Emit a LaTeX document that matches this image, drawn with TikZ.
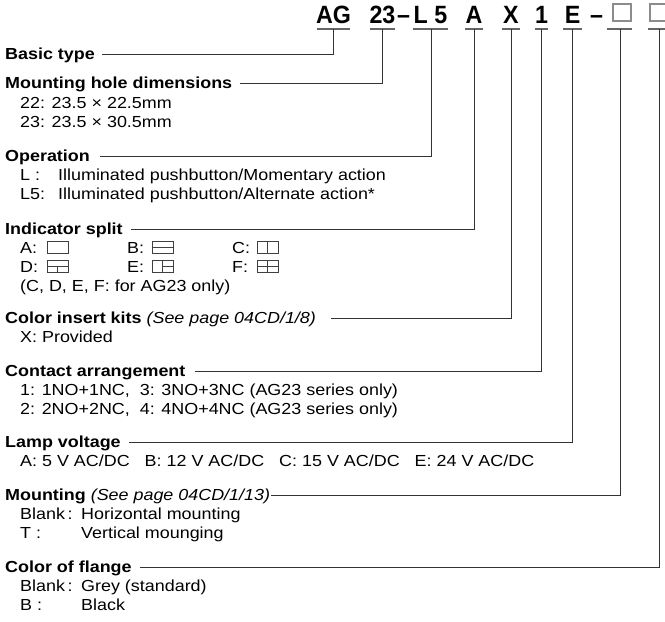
\documentclass[tikz,border=0pt]{standalone}
\usepackage{fontspec}
\setmainfont{Liberation Sans}[FakeStretch=1.12]
\newfontfamily\codefont{Liberation Sans}[FakeStretch=0.93]
\begin{document}
\begin{tikzpicture}[x=1pt,y=-1pt,
  hdr/.style={font=\bfseries\fontsize{16}{19}\selectfont, inner sep=0pt, text height=12pt, text depth=3pt, anchor=base west},
  itm/.style={font=\fontsize{16}{19}\selectfont, inner sep=0pt, anchor=base west},
  code/.style={font=\codefont\bfseries\fontsize{25}{28}\selectfont, inner sep=0pt, text depth=0pt, anchor=base},
  ul/.style={line width=1.4pt, draw=black!60},
  lead/.style={line width=0.9pt, draw=black!80},
  cbox/.style={draw=black!45, line width=1.1pt, minimum width=18pt, minimum height=17pt, inner sep=0pt},
  sbox/.style={line width=0.7pt, draw=black!75}]
\useasboundingbox (0,0) rectangle (665,622);

% ---- order code ----
\node[code] (cAG) at (333.5,23) {AG};
\node[code] (c23) at (382.5,23) {23};
\node[code] (cd1) at (403.5,23) {–};
\node[code] (cL5) at (430.5,23) {L 5};
\node[code] (cA) at (474,23) {A};
\node[code] (cX) at (511,23) {X};
\node[code] (c1) at (541.5,23) {1};
\node[code] (cE) at (572.5,23) {E};
\node[code] (cd2) at (596.5,23) {–};
\node[cbox] (cB1) at (622,12.5) {};
\node[cbox] (cB2) at (659,12.5) {};

% underlines
\coordinate (uAG) at (333.5,29);
\coordinate (u23) at (382.5,29);
\coordinate (uL5) at (431,29);
\coordinate (uA) at (474,29);
\coordinate (uX) at (511,29);
\coordinate (u1) at (541.5,29);
\coordinate (uE) at (572.5,29);
\coordinate (uB1) at (620,29);
\coordinate (uB2) at (659,29);
\draw[ul] (317,29) -- (350,29);
\draw[ul] (370,29) -- (395,29);
\draw[ul] (413,29) -- (448,29);
\draw[ul] (465,29) -- (483,29);
\draw[ul] (502,29) -- (520,29);
\draw[ul] (535,29) -- (548,29);
\draw[ul] (563,29) -- (582,29);
\draw[ul] (607,29) -- (632,29);
\draw[ul] (648,29) -- (673,29);

% ---- headers ----
\node[hdr] (hBasic) at (5,59) {Basic type};
\node[hdr] (hHole) at (5,88) {Mounting hole dimensions};
\node[hdr] (hOp) at (5,161) {Operation};
\node[hdr] (hInd) at (5,234) {Indicator split};
\node[hdr] (hIns) at (5,323) {Color insert kits {\mdseries\itshape (See page 04CD/1/8)}};
\node[hdr] (hCon) at (5,376) {Contact arrangement};
\node[hdr] (hLamp) at (5,447) {Lamp voltage};
\node[hdr] (hMnt) at (5,500) {Mounting {\mdseries\itshape (See page 04CD/1/13)}};
\node[hdr] (hFl) at (5,572) {Color of flange};

% ---- leaders ----
\draw[lead] ([xshift=7pt]hBasic.east) -| (uAG);
\draw[lead] ([xshift=8pt]hHole.east) -| (u23);
\draw[lead] ([xshift=10pt]hOp.east) -| (uL5);
\draw[lead] ([xshift=8pt]hInd.east) -| (uA);
\draw[lead] ([xshift=15pt]hIns.east) -| (uX);
\draw[lead] ([xshift=9pt]hCon.east) -| (u1);
\draw[lead] ([xshift=8pt]hLamp.east) -| (uE);
\draw[lead] ([xshift=1pt]hMnt.east) -| (uB1);
\draw[lead] ([xshift=8pt]hFl.east) -| (uB2);

% ---- items ----
\node[itm] (i22) at (20,108) {22: 23.5 × 22.5mm};
\node[itm] (i23) at (20,127) {23: 23.5 × 30.5mm};
\node[itm] (iL) at (20,180) {\makebox[38pt][l]{L\ :}Illuminated pushbutton/Momentary action};
\node[itm] (iL5) at (20,199) {\makebox[38pt][l]{L5:}Illuminated pushbutton/Alternate action*};

\node[itm] (iA) at (20,253) {A:};
\node[itm] (iB) at (127,253) {B:};
\node[itm] (iC) at (232,253) {C:};
\node[itm] (iD) at (20,272) {D:};
\node[itm] (iE) at (127,272) {E:};
\node[itm] (iF) at (232,272) {F:};
\node[itm] (iCDEF) at (20,291) {(C, D, E, F: for AG23 only)};

% split symbols
\draw[sbox] (47,241) rectangle (68,253);
\draw[sbox] (152,241) rectangle (173,253) (152,247) -- (173,247);
\draw[sbox] (257,241) rectangle (278,253) (267.5,241) -- (267.5,253);
\draw[sbox] (47,260) rectangle (68,272) (47,266) -- (68,266) (57.5,266) -- (57.5,272);
\draw[sbox] (152,260) rectangle (173,272) (162.5,260) -- (162.5,272) (162.5,266) -- (173,266);
\draw[sbox] (257,260) rectangle (278,272) (257,266) -- (278,266) (267.5,260) -- (267.5,272);

\node[itm] (iX) at (20,342) {X: Provided};
\node[itm] (i1) at (20,395) {1: 1NO+1NC,\ \ 3: 3NO+3NC (AG23 series only)};
\node[itm] (i2) at (20,414) {2: 2NO+2NC,\ \ 4: 4NO+4NC (AG23 series only)};
\node[itm] (iV) at (20,466) {A: 5 V AC/DC\hspace{15pt}B: 12 V AC/DC\hspace{15pt}C: 15 V AC/DC\hspace{15pt}E: 24 V AC/DC};
\node[itm] (iMH) at (20,519) {\makebox[61pt][l]{Blank\,:}Horizontal mounting};
\node[itm] (iMT) at (20,538) {\makebox[61pt][l]{T\ :}Vertical mounging};
\node[itm] (iFG) at (20,591) {\makebox[61pt][l]{Blank\,:}Grey (standard)};
\node[itm] (iFB) at (20,610) {\makebox[61pt][l]{B\ :}Black};
\end{tikzpicture}
\end{document}
